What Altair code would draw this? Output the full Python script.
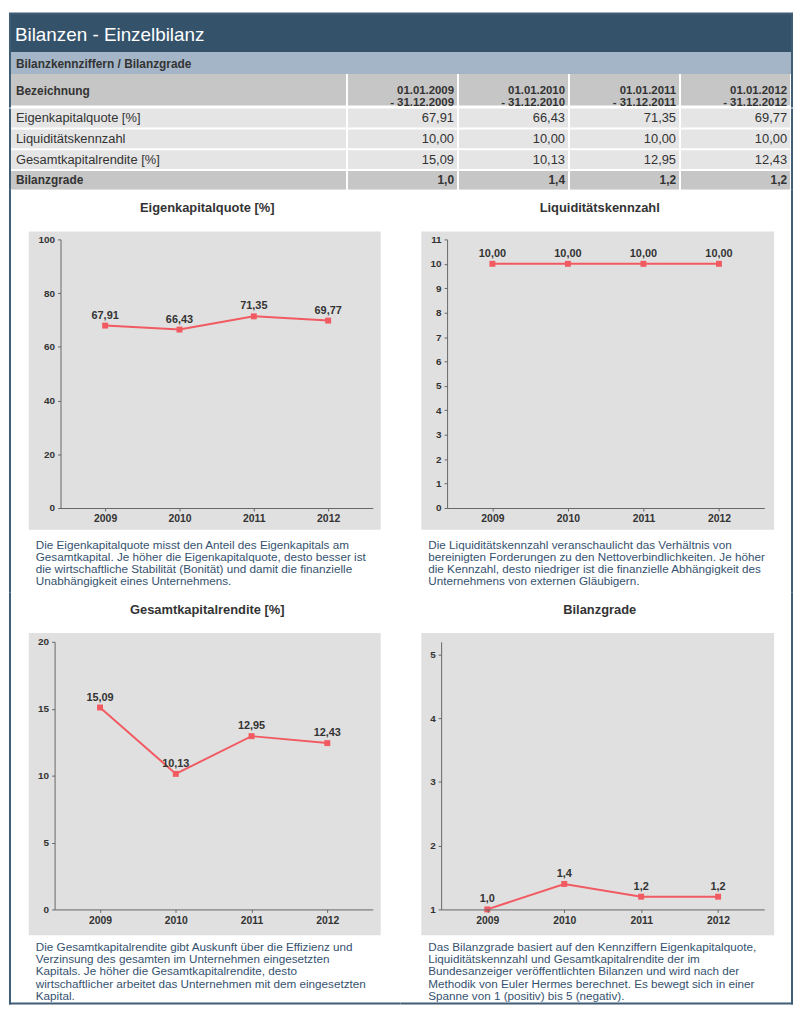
import altair as alt
import pandas as pd

# ---------------- data ----------------
years = ["2009", "2010", "2011", "2012"]
period_from = ["01.01.2009", "01.01.2010", "01.01.2011", "01.01.2012"]
period_to = ["31.12.2009", "31.12.2010", "31.12.2011", "31.12.2012"]
row_names = ["Eigenkapitalquote [%]", "Liquiditätskennzahl",
             "Gesamtkapitalrendite [%]", "Bilanzgrade"]
eigenkapitalquote = [67.91, 66.43, 71.35, 69.77]
liquiditaetskennzahl = [10.00, 10.00, 10.00, 10.00]
gesamtkapitalrendite = [15.09, 10.13, 12.95, 12.43]
bilanzgrade = [1.0, 1.4, 1.2, 1.2]
row_decimals = [2, 2, 2, 1]

ticks_ekq = [0, 20, 40, 60, 80, 100]
ticks_liq = [0, 1, 2, 3, 4, 5, 6, 7, 8, 9, 10, 11]
ticks_gkr = [0, 5, 10, 15, 20]
ticks_bg = [1, 2, 3, 4, 5]

page_title = "Bilanzen - Einzelbilanz"
section_title = "Bilanzkennziffern / Bilanzgrade"
col_header = "Bezeichnung"

desc_ekq = ("Die Eigenkapitalquote misst den Anteil des Eigenkapitals am\n"
            "Gesamtkapital. Je höher die Eigenkapitalquote, desto besser ist\n"
            "die wirtschaftliche Stabilität (Bonität) und damit die finanzielle\n"
            "Unabhängigkeit eines Unternehmens.")
desc_liq = ("Die Liquiditätskennzahl veranschaulicht das Verhältnis von\n"
            "bereinigten Forderungen zu den Nettoverbindlichkeiten. Je höher\n"
            "die Kennzahl, desto niedriger ist die finanzielle Abhängigkeit des\n"
            "Unternehmens von externen Gläubigern.")
desc_gkr = ("Die Gesamtkapitalrendite gibt Auskunft über die Effizienz und\n"
            "Verzinsung des gesamten im Unternehmen eingesetzten\n"
            "Kapitals. Je höher die Gesamtkapitalrendite, desto\n"
            "wirtschaftlicher arbeitet das Unternehmen mit dem eingesetzten\n"
            "Kapital.")
desc_bg = ("Das Bilanzgrade basiert auf den Kennziffern Eigenkapitalquote,\n"
           "Liquiditätskennzahl und Gesamtkapitalrendite der im\n"
           "Bundesanzeiger veröffentlichten Bilanzen und wird nach der\n"
           "Methodik von Euler Hermes berechnet. Es bewegt sich in einer\n"
           "Spanne von 1 (positiv) bis 5 (negativ).")

# ---------------- style ----------------
FRAME = "#3f5d75"
DARK = "#34536b"
LIGHT_BLUE = "#a3b5c6"
HDR_GRAY = "#c6c6c6"
ROW_LIGHT = "#e5e5e5"
TEXT = "#333333"
PLOT_BG = "#e0e0e0"
RED = "#f25a61"
DESC = "#34526f"
FONT = "Liberation Sans"

ONE = pd.DataFrame({"k": [0]})


def fmt(v, d):
    return f"{v:.{d}f}".replace(".", ",")


def vrect(x0, x1, y0, y1, color, **kw):
    return alt.Chart(ONE).mark_rect(color=color, **kw).encode(
        x=alt.value(x0), x2=alt.value(x1), y=alt.value(y0), y2=alt.value(y1))


def vtext(txt, x, y, **kw):
    return alt.Chart(ONE).mark_text(text=txt, font=FONT, **kw).encode(
        x=alt.value(x), y=alt.value(y))


def spacer():
    # (almost) zero-size first column so that the next panel is placed by its bounds
    return vrect(0, 0, 0, 0, "white", opacity=0).properties(width=0.01, height=0.01)


# inner content spans x = 3 .. 790, frame strips 1..3 and 790..792
TOTAL_W = 792

# ---------------- banner ----------------
banner = alt.layer(
    vrect(1, TOTAL_W, 0, 62, FRAME),
    vrect(3, 790, 2, 40, DARK),
    vrect(3, 790, 40, 62, LIGHT_BLUE),
    vtext(page_title, 7, 29, fontSize=19, color="white", align="left",
          baseline="alphabetic"),
    vtext(section_title, 8, 52, fontSize=12, fontWeight="bold", color=TEXT,
          align="left", baseline="middle"),
).properties(width=TOTAL_W, height=62)

# ---------------- table ----------------
LEFT_W = 342
RIGHT_W = 448
xband = alt.Scale(type="band", paddingInner=2 / 112, paddingOuter=1 / 112)
yband = alt.Scale(type="band", paddingInner=2 / 21, paddingOuter=0)

hdr_left = alt.layer(
    vrect(0, LEFT_W, 0, 34, "white"),
    vrect(1, 3, 0, 34, FRAME),
    vrect(3, LEFT_W - 1, 0, 32, HDR_GRAY),
    vtext(col_header, 8, 17, fontSize=12, fontWeight="bold", color=TEXT,
          align="left", baseline="middle"),
).properties(width=LEFT_W, height=34)

hdr_df = pd.DataFrame({
    "Periode": period_from,
    "Text": [f"{a}\n- {b}" for a, b in zip(period_from, period_to)],
})
hx = alt.X("Periode:N", sort=period_from, scale=xband, axis=None)
hdr_right = alt.layer(
    vrect(0, RIGHT_W, 0, 34, "white"),
    vrect(RIGHT_W, RIGHT_W + 2, 0, 34, FRAME),
    alt.Chart(hdr_df).mark_rect(color=HDR_GRAY).encode(
        x=hx, y=alt.value(0), y2=alt.value(32)),
    alt.Chart(hdr_df).mark_text(font=FONT, fontSize=11.5, fontWeight="bold",
                                color=TEXT, align="right", baseline="middle",
                                lineBreak="\n", lineHeight=12.5, dx=-3).encode(
        x=alt.X("Periode:N", sort=period_from, scale=xband, axis=None,
                bandPosition=1),
        y=alt.value(17), text="Text:N"),
).properties(width=RIGHT_W, height=34)

series = [eigenkapitalquote, liquiditaetskennzahl, gesamtkapitalrendite, bilanzgrade]
rows = []
for name, vals, d in zip(row_names, series, row_decimals):
    for p, v in zip(period_from, vals):
        rows.append({"Zeile": name, "Periode": p, "Text": fmt(v, d),
                     "Fett": name == "Bilanzgrade"})
body_df = pd.DataFrame(rows)
label_df = pd.DataFrame({"Zeile": row_names,
                         "Fett": [n == "Bilanzgrade" for n in row_names]})

ry = alt.Y("Zeile:N", sort=row_names, scale=yband, axis=None)
ryc = alt.Y("Zeile:N", sort=row_names, scale=yband, axis=None, bandPosition=0.5)
fill_cond = alt.condition(alt.datum.Fett, alt.value(HDR_GRAY), alt.value(ROW_LIGHT))

body_left = alt.layer(
    vrect(0, LEFT_W, 0, 82, "white"),
    vrect(1, 3, 0, 82, FRAME),
    alt.Chart(label_df).mark_rect().encode(
        x=alt.value(3), x2=alt.value(LEFT_W - 1), y=ry, color=fill_cond),
    alt.Chart(label_df).transform_filter("!datum.Fett").mark_text(
        font=FONT, fontSize=13, color=TEXT, align="left", baseline="middle").encode(
        x=alt.value(8), y=ryc, text="Zeile:N"),
    alt.Chart(label_df).transform_filter("datum.Fett").mark_text(
        font=FONT, fontSize=12, fontWeight="bold", color=TEXT, align="left",
        baseline="middle").encode(x=alt.value(8), y=ryc, text="Zeile:N"),
).properties(width=LEFT_W, height=82)

bx = alt.X("Periode:N", sort=period_from, scale=xband, axis=None)
bxr = alt.X("Periode:N", sort=period_from, scale=xband, axis=None, bandPosition=1)
body_right = alt.layer(
    vrect(0, RIGHT_W, 0, 82, "white"),
    vrect(RIGHT_W, RIGHT_W + 2, 0, 82, FRAME),
    alt.Chart(body_df).mark_rect().encode(x=bx, y=ry, color=fill_cond),
    alt.Chart(body_df).transform_filter("!datum.Fett").mark_text(
        font=FONT, fontSize=13, color=TEXT, align="right", baseline="middle",
        dx=-3).encode(x=bxr, y=ryc, text="Text:N"),
    alt.Chart(body_df).transform_filter("datum.Fett").mark_text(
        font=FONT, fontSize=12, fontWeight="bold", color=TEXT, align="right",
        baseline="middle", dx=-3).encode(x=bxr, y=ryc, text="Text:N"),
).properties(width=RIGHT_W, height=82)


# ---------------- chart panels ----------------
def panel(title, values, dec, domain, ticks, desc, plot_left, plot_w, row, side):
    if row == 1:
        panel_h, plot_h, ry0, ry1, desc_base = 406, 271, 42, 343, 362
    else:
        panel_h, plot_h, ry0, ry1, desc_base = 414, 270, 41, 346, 362
    if side == "left":
        inner_w, gx0, gx1, title_x, desc_x = 393, 18, 373, 198, 25
    else:
        inner_w, gx0, gx1, title_x, desc_x = 394, 21, 377, 201, 28
    ox, oy = plot_left, 50

    layers = [vrect(-ox, inner_w - ox, -oy, panel_h - oy, "white")]
    if side == "left":
        layers.append(vrect(-ox - 2, -ox, -oy, panel_h - oy + (2 if row == 2 else 0), FRAME))
        if row == 2:
            layers.append(vrect(-ox - 2, inner_w - ox, panel_h - oy, panel_h - oy + 2, FRAME))
    else:
        layers.append(vrect(inner_w - ox, inner_w - ox + 2, -oy,
                            panel_h - oy + (2 if row == 2 else 0), FRAME))
        if row == 2:
            layers.append(vrect(-ox, inner_w - ox + 2, panel_h - oy, panel_h - oy + 2, FRAME))

    df = pd.DataFrame({"Jahr": years, "Wert": values,
                       "Label": [fmt(v, dec) for v in values]})
    X = alt.X("Jahr:O", sort=years,
              scale=alt.Scale(type="point", padding=0.6),
              axis=alt.Axis(title=None, labelAngle=0, labelFont=FONT,
                            labelFontSize=10.5, labelFontWeight="bold",
                            labelColor=TEXT, domainColor="#666",
                            tickColor="#666", tickSize=3, labelPadding=3,
                            grid=False, zindex=1))
    Y = alt.Y("Wert:Q",
              scale=alt.Scale(domain=domain, nice=False, zero=False),
              axis=alt.Axis(title=None, values=ticks, format="d",
                            labelFont=FONT, labelFontSize=10,
                            labelFontWeight="bold", labelColor=TEXT,
                            domainColor="#666", tickColor="#666", tickSize=3,
                            labelPadding=3, grid=False, zindex=1))
    base = alt.Chart(df)
    layers += [
        vrect(gx0 - ox, gx1 - ox, ry0 - oy, ry1 - oy, PLOT_BG),
        vtext(title, title_x - ox, 18 - oy, fontSize=13, fontWeight="bold",
              color=TEXT, align="center", baseline="middle"),
        vtext(desc, desc_x - ox, desc_base - oy, fontSize=11.8, color=DESC,
              align="left", baseline="alphabetic", lineBreak="\n",
              lineHeight=12.3),
        base.mark_line(color=RED, strokeWidth=2).encode(x=X, y=Y),
        base.mark_point(shape="square", filled=True, size=36, color=RED,
                        opacity=1).encode(x=X, y=Y),
        base.mark_text(font=FONT, fontSize=11, fontWeight="bold", color=TEXT,
                       dy=-10, baseline="middle").encode(x=X, y=Y,
                                                        text="Label:N"),
    ]
    return alt.layer(*layers).properties(width=plot_w, height=plot_h)


p1 = panel("Eigenkapitalquote [%]", eigenkapitalquote, 2, [0, 100], ticks_ekq,
           desc_ekq, 50, 315, 1, "left")
p2 = panel("Liquiditätskennzahl", liquiditaetskennzahl, 2, [0, 11], ticks_liq,
           desc_liq, 47, 320, 1, "right")
p3 = panel("Gesamtkapitalrendite [%]", gesamtkapitalrendite, 2, [0, 20],
           ticks_gkr, desc_gkr, 44, 321, 2, "left")
p4 = panel("Bilanzgrade", bilanzgrade, 1, [1, 5.2], ticks_bg, desc_bg,
           41, 326, 2, "right")

chart = alt.vconcat(
    banner,
    alt.hconcat(hdr_left, hdr_right, spacing=0),
    alt.hconcat(body_left, body_right, spacing=0),
    alt.hconcat(spacer(), p1, p2, spacing=0),
    alt.hconcat(spacer(), p3, p4, spacing=0),
    spacing=0,
).properties(background="white", padding=0).configure(
    font=FONT,
    view=alt.ViewConfig(stroke=None),
    concat=alt.CompositionConfig(spacing=0),
)

chart.save("out.html", embed_options={"renderer": "svg", "actions": False})
